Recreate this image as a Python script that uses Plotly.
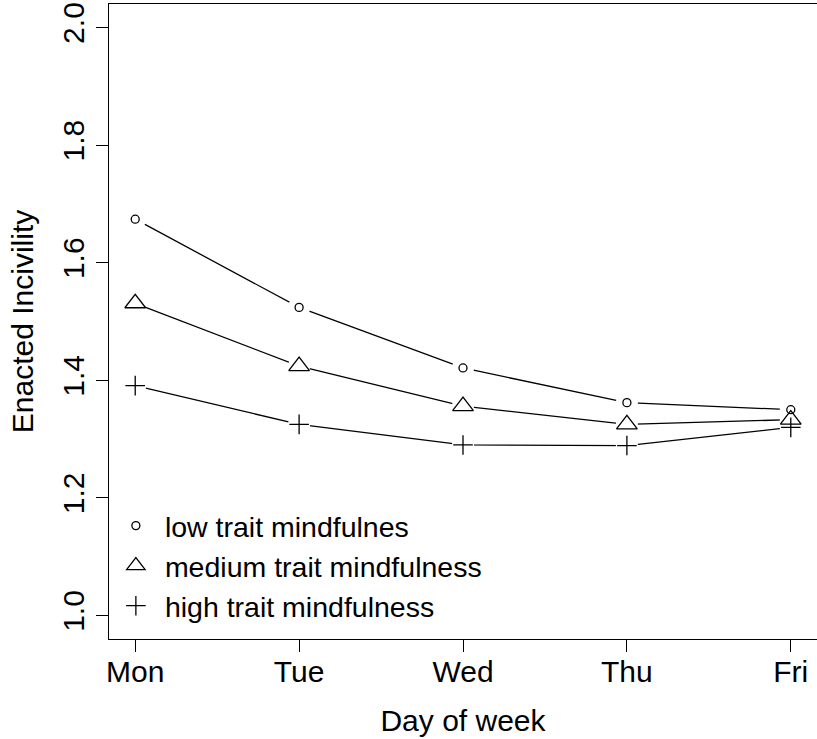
import plotly.graph_objects as go

days = ["Mon", "Tue", "Wed", "Thu", "Fri"]
day_pos = [1, 2, 3, 4, 5]
low = [1.674, 1.524, 1.421, 1.362, 1.350]
medium = [1.531, 1.424, 1.356, 1.325, 1.333]
high = [1.391, 1.325, 1.290, 1.289, 1.320]
y_ticks = [1.0, 1.2, 1.4, 1.6, 1.8, 2.0]
y_ticklabels = ["1.0", "1.2", "1.4", "1.6", "1.8", "2.0"]

series = [
    ("low trait mindfulnes", low, "circle-open", 8),
    ("medium trait mindfulness", medium, "triangle-up-open", 18),
    ("high trait mindfulness", high, "cross-thin-open", 14),
]

FONT = "Liberation Sans, Arial, sans-serif"
fig = go.Figure()

# connecting lines
for name, vals, sym, sz in series:
    fig.add_trace(go.Scatter(x=day_pos, y=vals, mode="lines",
                             line=dict(color="black", width=1.3),
                             showlegend=False, hoverinfo="skip"))
# white gaps around points (like R type="b")
for name, vals, sym, sz in series:
    fig.add_trace(go.Scatter(x=day_pos, y=vals, mode="markers",
                             marker=dict(symbol="circle", size=22, color="white",
                                         line=dict(width=0)),
                             showlegend=False, hoverinfo="skip"))
# point symbols
for name, vals, sym, sz in series:
    fig.add_trace(go.Scatter(x=day_pos, y=vals, mode="markers", name=name,
                             marker=dict(symbol=sym, size=sz, color="black",
                                         line=dict(color="black", width=1.3))))

fig.update_layout(
    width=817, height=739,
    margin=dict(l=109, r=0, t=4, b=100),
    paper_bgcolor="white", plot_bgcolor="white",
    font=dict(family=FONT, size=30, color="black"),
    showlegend=True,
    legend=dict(x=-0.003, y=0.218, xanchor="left", yanchor="top",
                bgcolor="rgba(0,0,0,0)", borderwidth=0,
                font=dict(family=FONT, size=28.5, color="black"),
                itemsizing="trace", itemwidth=48, tracegroupgap=0),
    xaxis=dict(range=[0.84, 5.16], tickmode="array", tickvals=day_pos, ticktext=days,
               automargin=False,
               showgrid=False, zeroline=False, showline=True, mirror=True,
               linecolor="black", linewidth=1.3,
               ticks="outside", ticklen=12, tickwidth=1.3, tickcolor="black",
               ticklabelstandoff=-6,
               tickfont=dict(family=FONT, size=30, color="black"),
               title=dict(text="Day of week", standoff=22,
                          font=dict(family=FONT, size=30, color="black"))),
    yaxis=dict(range=[0.96, 2.04], tickmode="array", tickvals=y_ticks, ticktext=y_ticklabels,
               automargin=False,
               showgrid=False, zeroline=False, showline=True, mirror=False,
               linecolor="black", linewidth=1.3,
               ticks="outside", ticklen=12, tickwidth=1.3, tickcolor="black",
               tickangle=-90,
               tickfont=dict(family=FONT, size=30, color="black"),
               title=dict(text="Enacted Incivility", standoff=14,
                          font=dict(family=FONT, size=30, color="black"))),
)

fig.write_html("out.html", config={"displayModeBar": False},
               post_script="document.body.style.margin='0';")
